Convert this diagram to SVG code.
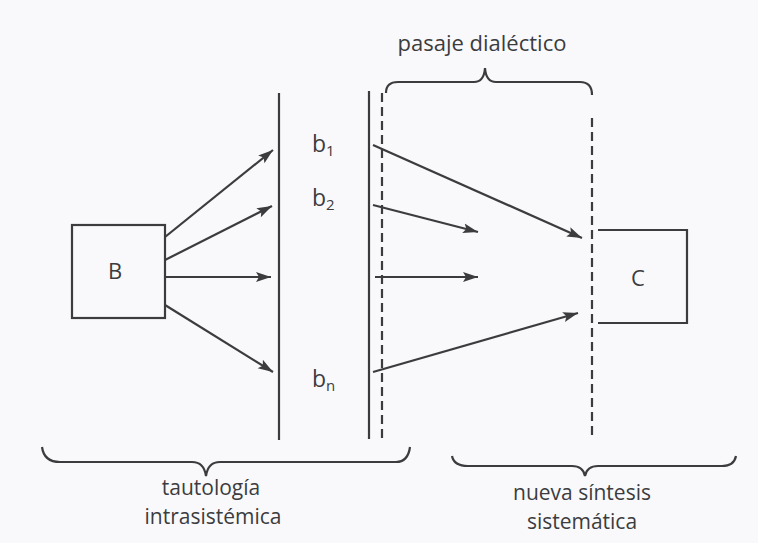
<svg xmlns="http://www.w3.org/2000/svg" width="758" height="543" viewBox="0 0 758 543">
<style>
.ln{stroke:#3c3c3e;stroke-width:2.2;fill:none}
.ds{stroke:#3c3c3e;stroke-width:2.2;fill:none;stroke-dasharray:9 5}
.ar{stroke:#3c3c3e;stroke-width:2.2;fill:none;marker-end:url(#ah)}
.t{font-family:"Open Sans","Liberation Sans",sans-serif;fill:#3c3c3e}
</style>
<defs>
<marker id="ah" markerUnits="userSpaceOnUse" markerWidth="16" markerHeight="12" refX="15" refY="6" orient="auto">
<path d="M0,1 L15,6 L0,11 L3,6 z" fill="#3c3c3e"/>
</marker>
</defs>
<rect width="758" height="543" fill="#f9f9fb"/>

<g id="nodeB">
<rect x="72" y="225" width="93" height="93" class="ln"/>
<text x="115" y="279" class="t" font-size="22" text-anchor="middle">B</text>
</g>

<g id="nodeC">
<path d="M598,230 H687 V323 H598" class="ln"/>
<text x="638" y="286" class="t" font-size="22" text-anchor="middle">C</text>
</g>

<g id="walls">
<line x1="279" y1="93" x2="279" y2="440" class="ln"/>
<line x1="369" y1="91" x2="369" y2="439" class="ln"/>
<line x1="382" y1="93" x2="382" y2="440" class="ds"/>
<line x1="592" y1="118" x2="592" y2="440" class="ds"/>
</g>

<g id="labels-b">
<text x="312" y="152" class="t" font-size="23">b<tspan font-size="15" dy="4">1</tspan></text>
<text x="312" y="206" class="t" font-size="23">b<tspan font-size="15" dy="4">2</tspan></text>
<text x="312" y="387" class="t" font-size="23">b<tspan font-size="15" dy="4">n</tspan></text>
</g>

<g id="connectors">
<line x1="165" y1="237" x2="273" y2="150" class="ar"/>
<line x1="165" y1="260" x2="272" y2="206" class="ar"/>
<line x1="165" y1="277" x2="271" y2="277" class="ar"/>
<line x1="165" y1="305" x2="273" y2="372" class="ar"/>
<line x1="373" y1="145" x2="582" y2="238" class="ar"/>
<line x1="373" y1="205" x2="478" y2="232" class="ar"/>
<line x1="375" y1="277" x2="478" y2="277" class="ar"/>
<line x1="373" y1="372" x2="578" y2="313" class="ar"/>
</g>

<g id="brace-top">
<path d="M386,93 Q386,82 398,82 H474 Q484,82 485,68 Q486,82 496,82 H580 Q592,82 592,95" class="ln"/>
<text x="482" y="51" class="t" font-size="22" text-anchor="middle">pasaje dialéctico</text>
</g>

<g id="brace-left">
<path d="M42,447 Q44,462 60,462 H192 Q204,462 206,476 Q208,462 220,462 H396 Q408,462 410,447" class="ln"/>
<text x="211" y="495" class="t" font-size="21" text-anchor="middle">tautología</text>
<text x="213" y="524" class="t" font-size="21" text-anchor="middle">intrasistémica</text>
</g>

<g id="brace-right">
<path d="M452,456 Q454,466 468,466 H572 Q583,466 585,476 Q587,466 598,466 H722 Q734,466 736,456" class="ln"/>
<text x="582" y="500" class="t" font-size="21" text-anchor="middle">nueva síntesis</text>
<text x="582" y="529" class="t" font-size="21" text-anchor="middle">sistemática</text>
</g>
</svg>
